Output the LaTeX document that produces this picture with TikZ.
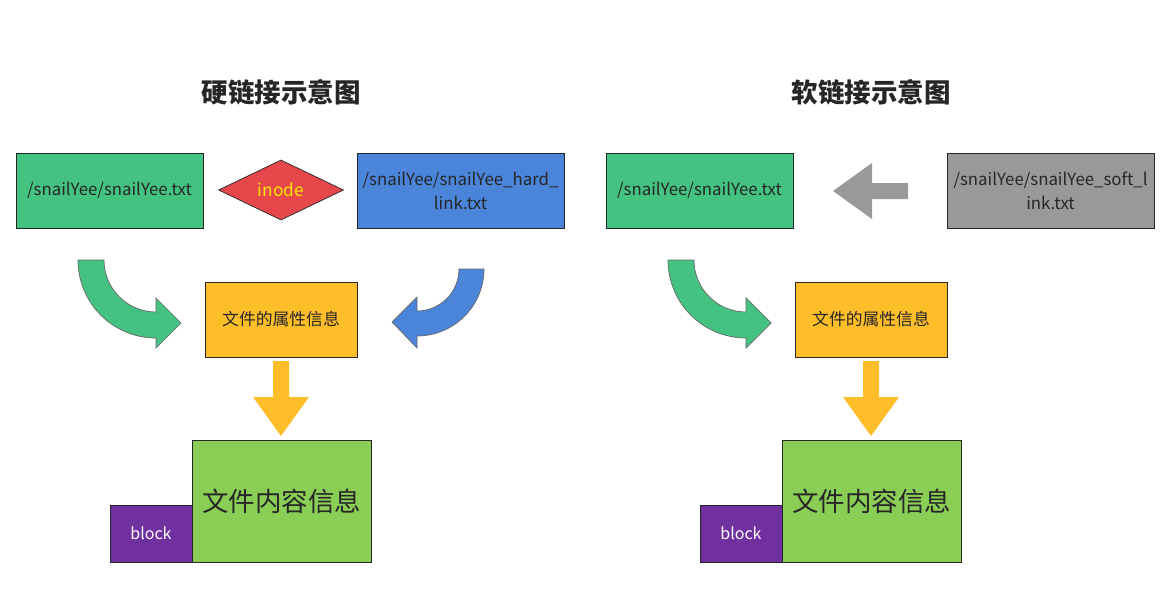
\documentclass[tikz,border=0pt]{standalone}
\usepackage{fontspec}
\setmainfont{Noto Sans CJK SC}
\usetikzlibrary{shapes.geometric}
\definecolor{cgreen}{HTML}{44C282}
\definecolor{cblue}{HTML}{4A85D9}
\definecolor{cred}{HTML}{E5474B}
\definecolor{cyellow}{HTML}{FEBE29}
\definecolor{clgreen}{HTML}{8ACE56}
\definecolor{cpurple}{HTML}{7030A0}
\definecolor{cgray}{HTML}{999999}
\definecolor{ctext}{HTML}{262626}
\definecolor{cinode}{HTML}{FFE800}
\definecolor{cedge}{HTML}{666666}
\tikzset{
  box/.style={draw=black!85, line width=0.7pt, inner sep=0pt, outer sep=0pt, anchor=north west, align=center, text=ctext, font=\fontsize{16.8}{24}\selectfont},
  curved/.style={draw=cedge, line width=0.7pt, line join=miter},
  titletext/.style={font=\fontsize{26.5}{30}\selectfont\bfseries, text=ctext},
  attr/.style={font=\fontsize{16.8}{20}\selectfont},
  content/.style={font=\fontsize{26.5}{30}\selectfont},
  blk/.style={text=white, font=\fontsize{16}{20}\selectfont},
}
\begin{document}
\begin{tikzpicture}[x=1pt,y=-1pt]
\useasboundingbox (0,0) rectangle (1170,610);
\fill[white] (0,0) rectangle (1170,610);

% ---------- left: hard link ----------
\node[titletext] (t1) at (281,92) {硬链接示意图};
\node[box, fill=cgreen, minimum width=187pt, minimum height=75pt] (a1) at (16,153) {/snailYee/snailYee.txt};
\node[diamond, draw=black!85, line width=0.7pt, fill=cred, minimum width=125pt, minimum height=47pt, inner sep=0pt, text=cinode, font=\fontsize{17.3}{20}\selectfont] (inode) at (281,190) {inode};
\node[box, fill=cblue, minimum width=207pt, minimum height=75pt] (b1) at (357,153) {/snailYee/snailYee\_hard\_\\link.txt};
\node[box, attr, fill=cyellow, minimum width=152pt, minimum height=75pt] (y1) at (205,282) {文件的属性信息};
\node[box, content, fill=clgreen, minimum width=179pt, minimum height=122pt] (c1) at (192,440) {文件内容信息};
\node[box, blk, fill=cpurple, minimum width=82pt, minimum height=57pt] (k1) at (110,505) {block};

% green curved arrow
\filldraw[curved, fill=cgreen] (78,260) -- (104,260) .. controls (104,288.7) and (127.3,312) .. (156,312) -- (156,298) -- (181,323) -- (156,348) -- (156,338) .. controls (112.9,338) and (78,303.1) .. (78,260) -- cycle;
% blue curved arrow
\filldraw[curved, fill=cblue] (484,269) -- (459,269) .. controls (459,292.2) and (440.2,311) .. (417,311) -- (417,297) -- (392,322) -- (417,348) -- (417,336) .. controls (454,336) and (484,306) .. (484,269) -- cycle;
% yellow down arrow
\fill[cyellow] (273,361) -- (289,361) -- (289,397) -- (309,397) -- (281,436) -- (253,397) -- (273,397) -- cycle;

% ---------- right: soft link ----------
\node[titletext] (t2) at (871,92) {软链接示意图};
\node[box, fill=cgreen, minimum width=187pt, minimum height=75pt] (a2) at (606,153) {/snailYee/snailYee.txt};
\node[box, fill=cgray, minimum width=207pt, minimum height=75pt] (b2) at (947,153) {/snailYee/snailYee\_soft\_l\\ink.txt};
\node[box, attr, fill=cyellow, minimum width=152pt, minimum height=75pt] (y2) at (795,282) {文件的属性信息};
\node[box, content, fill=clgreen, minimum width=179pt, minimum height=122pt] (c2) at (782,440) {文件内容信息};
\node[box, blk, fill=cpurple, minimum width=82pt, minimum height=57pt] (k2) at (700,505) {block};

% gray arrow
\fill[cgray] (908,183) -- (872,183) -- (872,163) -- (833,191) -- (872,219) -- (872,199) -- (908,199) -- cycle;
% green curved arrow
\filldraw[curved, fill=cgreen] (668,260) -- (694,260) .. controls (694,288.7) and (717.3,312) .. (746,312) -- (746,298) -- (771,323) -- (746,348) -- (746,338) .. controls (702.9,338) and (668,303.1) .. (668,260) -- cycle;
% yellow down arrow
\fill[cyellow] (863,361) -- (879,361) -- (879,397) -- (899,397) -- (871,436) -- (843,397) -- (863,397) -- cycle;
\end{tikzpicture}
\end{document}
